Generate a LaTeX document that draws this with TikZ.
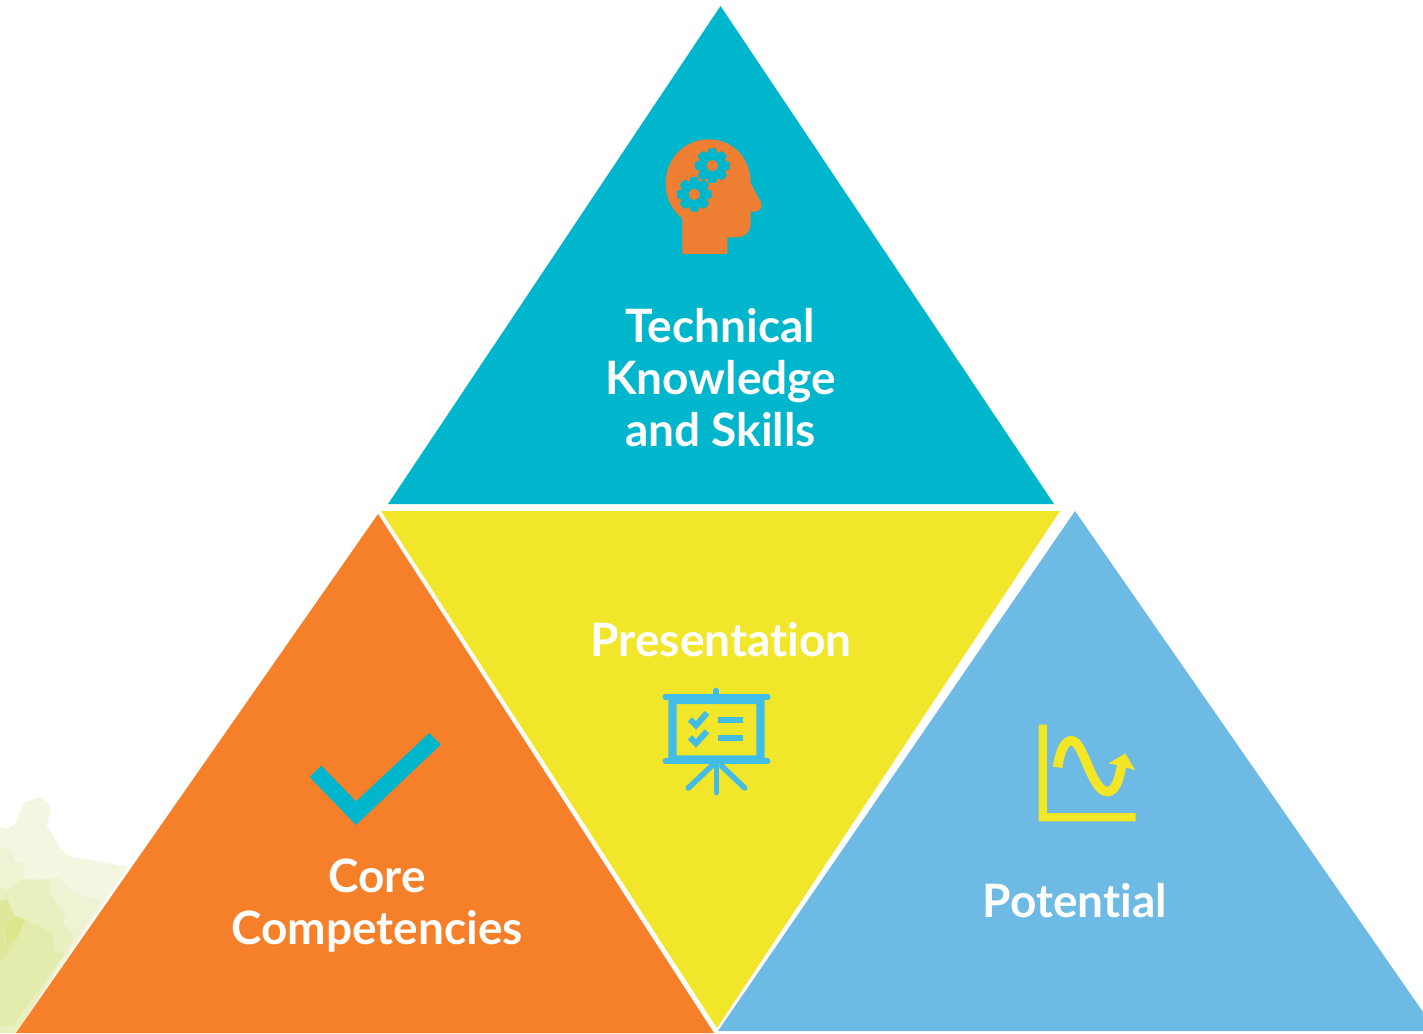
\documentclass[tikz,border=0pt]{standalone}
\usepackage{fontspec}
\setmainfont[Ligatures=NoCommon]{Lato}
\definecolor{teal}{HTML}{00B6CC}
\definecolor{yel}{HTML}{F1E629}
\definecolor{org}{HTML}{F67F29}
\definecolor{blu}{HTML}{6DBAE4}
\definecolor{headorg}{HTML}{EE7F32}
\definecolor{iconblu}{HTML}{41BDE8}
\definecolor{iconyel}{HTML}{F3E627}
\definecolor{bga}{HTML}{F4F6E1}
\definecolor{bgb}{HTML}{EFF3D3}
\definecolor{bgc}{HTML}{E9EFBE}
\definecolor{bgd}{HTML}{E4ECAD}
\definecolor{bge}{HTML}{DFE89A}
\definecolor{bgf}{HTML}{DCE68C}
\tikzset{
  label text/.style={text=white,font=\bfseries\fontsize{46}{52}\selectfont,align=center,inner sep=0pt},
}
\begin{document}
\begin{tikzpicture}[x=1pt,y=-1pt]
\useasboundingbox (0,0) rectangle (1423,1033);
% background map
\begin{scope}[shift={(0,780)},x=0.3333pt,y=-0.3333pt]
\fill[bga] (0,140) -- (25,146) -- (45,130) -- (75,65) -- (120,52) -- (150,75) -- (150,100) -- (140,135) -- (180,205) -- (210,230) -- (385,260) -- (50,759) -- (0,759) -- cycle;
\fill[bgb] (0,205) -- (35,210) -- (40,245) -- (72,250) -- (72,295) -- (145,300) -- (175,290) -- (215,335) -- (305,362) -- (50,759) -- (0,759) -- cycle;
\fill[bgc] (0,320) -- (20,333) -- (68,296) -- (98,302) -- (148,298) -- (148,340) -- (195,403) -- (190,430) -- (225,470) -- (50,759) -- (0,759) -- cycle;
\fill[bgd] (0,360) -- (22,358) -- (42,405) -- (75,418) -- (155,460) -- (165,515) -- (195,520) -- (50,720) -- (45,735) -- (0,738) -- cycle;
\fill[bge] (0,365) -- (22,358) -- (42,405) -- (10,450) -- (15,495) -- (50,480) -- (0,550) -- cycle;
\fill[bgf] (42,408) -- (75,418) -- (55,470) -- (20,495) -- (12,450) -- cycle;
\fill[bgc] (98,302) -- (148,298) -- (148,340) -- (100,375) -- cycle;
\end{scope}
% triangles
\fill[teal] (720.5,6) -- (1054,504) -- (388,504) -- cycle;
\fill[yel] (381,511) -- (1060,511) -- (717,1028) -- cycle;
\fill[org] (378,514) -- (714,1033) -- (16,1033) -- cycle;
\fill[blu] (1075,511) -- (1423,1012) -- (1423,1031) -- (718,1031) -- cycle;
% head icon
\begin{scope}[shift={(640,120)},x=0.3333pt,y=-0.3333pt]
\fill[headorg] (127,402) -- (127,295) .. controls (95,270) and (77,235) .. (77,190)
  .. controls (77,115) and (135,58) .. (205,58) .. controls (280,58) and (332,115) .. (332,190)
  -- (362,245) .. controls (370,260) and (360,275) .. (345,275) -- (332,275) -- (332,310)
  .. controls (332,335) and (315,352) .. (290,352) -- (262,352) -- (262,402) -- cycle;
\foreach \cx/\cy in {217/137,163/223}{
  \fill[teal] (\cx,\cy) circle[radius=42];
  \foreach \a in {0,45,...,315}
    \fill[teal,rounded corners=1.2pt] ({\cx+52*sin(\a)+12*cos(\a)},{\cy-52*cos(\a)+12*sin(\a)})
      -- ({\cx+52*sin(\a)-12*cos(\a)},{\cy-52*cos(\a)-12*sin(\a)})
      -- ({\cx+30*sin(\a)-15*cos(\a)},{\cy-30*cos(\a)-15*sin(\a)})
      -- ({\cx+30*sin(\a)+15*cos(\a)},{\cy-30*cos(\a)+15*sin(\a)}) -- cycle;
  \fill[headorg] (\cx,\cy) circle[radius=17];
}
\end{scope}
% presentation icon
\begin{scope}[shift={(640,670)},x=0.3333pt,y=-0.3333pt]
\draw[iconblu,line width=6pt,line cap=round] (76,81) -- (383,81);
\draw[iconblu,line width=5.5pt,line cap=round] (76,273) -- (383,273);
\draw[iconblu,line width=6pt,line cap=round] (229,62) -- (229,81);
\fill[iconblu,even odd rule] (85,76) rectangle (374,272) (110,102) rectangle (349,256);
\draw[iconblu,line width=5.5pt,line cap=round] (230,275) -- (230,368);
\draw[iconblu,line width=5.5pt,line cap=round] (215,288) -- (145,354);
\draw[iconblu,line width=5.5pt,line cap=round] (245,288) -- (314,354);
\fill[iconblu] (234,141) rectangle (309,159);
\fill[iconblu] (234,195) rectangle (309,213);
\draw[iconblu,line width=6pt] (150,148) -- (168,166) -- (201,129);
\draw[iconblu,line width=6pt] (150,202) -- (168,220) -- (201,184);
\end{scope}
% chart icon
\begin{scope}[shift={(1020,710)},x=0.3333pt,y=-0.3333pt]
\fill[iconyel] (56,44) -- (81,44) -- (81,309) -- (347,309) -- (347,334) -- (56,334) -- cycle;
\draw[iconyel,line width=9.5pt] (113,172) .. controls (120,120) and (135,92) .. (155,92)
  .. controls (190,92) and (215,245) .. (262,245) .. controls (285,245) and (298,210) .. (305,165);
\fill[iconyel] (266,160) -- (316,130) -- (346,181) -- (305,168) -- cycle;
\end{scope}
% check icon
\begin{scope}[shift={(290,720)},x=0.3333pt,y=-0.3333pt]
\fill[teal] (59,171) -- (94,137) -- (198,244) -- (418,39) -- (452,74) -- (198,315) -- cycle;
\end{scope}
% labels
\node[label text] (tech) at (720.5,377.5) {Technical\\Knowledge\\and Skills};
\node[label text] (pres) at (721,640) {Presentation};
\node[label text] (core) at (377,906) {Core\\Competencies};
\node[label text] (pot) at (1075,901) {Potential};
\end{tikzpicture}
\end{document}
